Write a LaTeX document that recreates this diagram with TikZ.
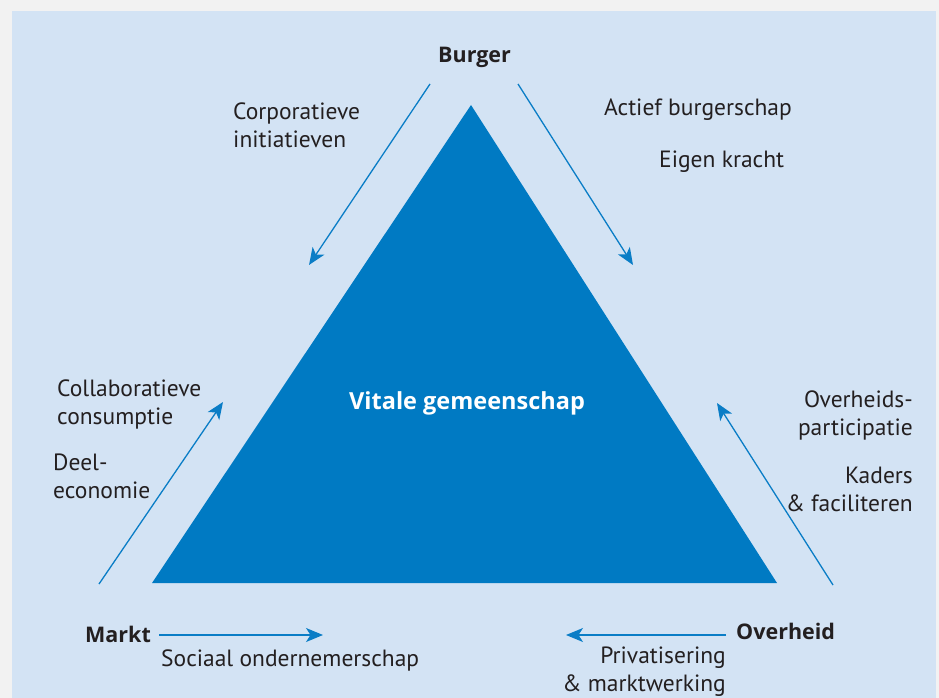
\documentclass[tikz,border=0pt]{standalone}
\usepackage{fontspec}
\setmainfont{PT Sans}
\newfontfamily\headfont{Open Sans}[BoldFont={* Bold}]
\usetikzlibrary{arrows.meta}
\definecolor{pagegray}{HTML}{F2F2F2}
\definecolor{panelblue}{HTML}{D3E3F4}
\definecolor{coreblue}{HTML}{007AC3}
\definecolor{arrowblue}{HTML}{0A7DC6}
\definecolor{ink}{HTML}{231F20}
\begin{document}
\begin{tikzpicture}[x=1pt,y=-1pt,
  lbl/.style={font=\fontsize{23.5}{28}\selectfont, text=ink, inner sep=0pt},
  corner/.style={font=\headfont\fontsize{21.5}{28}\selectfont\bfseries, text=ink, inner sep=0pt},
  flow/.style={draw=arrowblue, line width=1.3pt,
    -{Stealth[length=17pt,width=14pt,inset=4.5pt]}}]
  % page and panel
  \fill[pagegray] (0,0) rectangle (939,698);
  \fill[panelblue] (12,11) rectangle (936,698);
  \useasboundingbox (0,0) rectangle (939,698);

  % central triangle
  \coordinate (apex) at (471,105);
  \coordinate (baseL) at (152,583);
  \coordinate (baseR) at (777,583);
  \fill[coreblue] (apex) -- (baseR) -- (baseL) -- cycle;
  \node[corner, anchor=base west, text=white,
        font=\headfont\fontsize{23.5}{28}\selectfont\bfseries] (core) at (349,409) {Vitale gemeenschap};

  % actors
  \node[corner, anchor=base west] (burger) at (438,63) {Burger};
  \node[corner, anchor=base west] (markt) at (85,642) {Markt};
  \node[corner, anchor=base west] (overheid) at (736,639) {Overheid};

  % arrow end points
  \coordinate (bl1) at (430,84);  \coordinate (bl2) at (309,265);
  \coordinate (br1) at (518,84);  \coordinate (br2) at (633,265);
  \coordinate (ml1) at (99,584);  \coordinate (ml2) at (223,402);
  \coordinate (or1) at (833,585); \coordinate (or2) at (717,403);
  \coordinate (mk1) at (159,635); \coordinate (mk2) at (323,635);
  \coordinate (ov1) at (726,635); \coordinate (ov2) at (566,635);

  \draw[flow] (bl1) -- (bl2);
  \draw[flow] (br1) -- (br2);
  \draw[flow] (ml1) -- (ml2);
  \draw[flow] (or1) -- (or2);
  \draw[flow] (mk1) -- (mk2);
  \draw[flow] (ov1) -- (ov2);

  % labels (multi-line nodes are placed by the baseline of their last line)
  \node[lbl, anchor=base west, align=left] (corp) at (233,147) {Corporatieve\\initiatieven};
  \node[lbl, anchor=base west] (actief) at (604,116) {Actief burgerschap};
  \node[lbl, anchor=base west] (eigen) at (659,167) {Eigen kracht};
  \node[lbl, anchor=base west, align=left] (collab) at (57,424) {Collaboratieve\\consumptie};
  \node[lbl, anchor=base west, align=left] (deel) at (53,498) {Deel-\\economie};
  \node[lbl, anchor=base east, align=right] (ovpart) at (913,435) {Overheids-\\participatie};
  \node[lbl, anchor=base east, align=right] (kaders) at (913,511) {Kaders\\\& faciliteren};
  \node[lbl, anchor=base west] (sociaal) at (161,666) {Sociaal ondernemerschap};
  \node[lbl, anchor=base east, align=right] (priv) at (726,691) {Privatisering\\\& marktwerking};
\end{tikzpicture}
\end{document}
